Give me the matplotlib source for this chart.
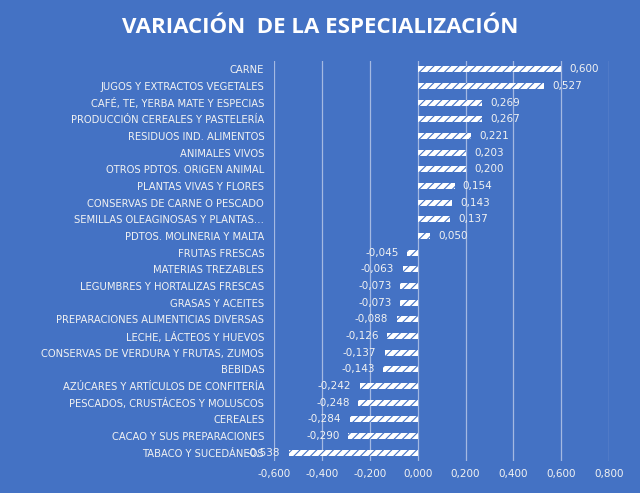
import numpy as np
import matplotlib.pyplot as plt
from matplotlib.ticker import FuncFormatter

categorias = [
    'CARNE',
    'JUGOS Y EXTRACTOS VEGETALES',
    'CAFÉ, TE, YERBA MATE Y ESPECIAS',
    'PRODUCCIÓN CEREALES Y PASTELERÍA',
    'RESIDUOS IND. ALIMENTOS',
    'ANIMALES VIVOS',
    'OTROS PDTOS. ORIGEN ANIMAL',
    'PLANTAS VIVAS Y FLORES',
    'CONSERVAS DE CARNE O PESCADO',
    'SEMILLAS OLEAGINOSAS Y PLANTAS…',
    'PDTOS. MOLINERIA Y MALTA',
    'FRUTAS FRESCAS',
    'MATERIAS TREZABLES',
    'LEGUMBRES Y HORTALIZAS FRESCAS',
    'GRASAS Y ACEITES',
    'PREPARACIONES ALIMENTICIAS DIVERSAS',
    'LECHE, LÁCTEOS Y HUEVOS',
    'CONSERVAS DE VERDURA Y FRUTAS, ZUMOS',
    'BEBIDAS',
    'AZÚCARES Y ARTÍCULOS DE CONFITERÍA',
    'PESCADOS, CRUSTÁCEOS Y MOLUSCOS',
    'CEREALES',
    'CACAO Y SUS PREPARACIONES',
    'TABACO Y SUCEDÁNEOS',
]
valores = [0.600, 0.527, 0.269, 0.267, 0.221, 0.203, 0.200, 0.154, 0.143,
           0.137, 0.050, -0.045, -0.063, -0.073, -0.073, -0.088, -0.126,
           -0.137, -0.143, -0.242, -0.248, -0.284, -0.290, -0.538]
ticks_x = [-0.6, -0.4, -0.2, 0.0, 0.2, 0.4, 0.6, 0.8]

azul = '#4472C4'
texto = '#F2F2F2'

def coma(v, pos=None):
    return f'{v:.3f}'.replace('.', ',')

plt.rcParams['hatch.linewidth'] = 0.8
fig = plt.figure(figsize=(6.4, 4.93), dpi=100, facecolor=azul)
ax = fig.add_axes([0.428, 0.065, 0.524, 0.811])
ax.set_facecolor(azul)

y = np.arange(len(categorias))
ax.barh(y, valores, height=0.36, color='white', edgecolor=azul,
        hatch='////', linewidth=0)

for yi, v in zip(y, valores):
    if v >= 0:
        ax.annotate(coma(v), (v, yi), xytext=(6, 0), textcoords='offset points',
                    ha='left', va='center', fontsize=7.5, color=texto)
    else:
        ax.annotate(coma(v), (v, yi), xytext=(-6, 0), textcoords='offset points',
                    ha='right', va='center', fontsize=7.5, color=texto)

ax.set_xlim(-0.6, 0.8)
ax.set_ylim(len(categorias) - 0.5, -0.5)
ax.set_xticks(ticks_x)
ax.xaxis.set_major_formatter(FuncFormatter(coma))
ax.set_yticks(y)
ax.set_yticklabels(categorias)
ax.tick_params(axis='y', length=0, pad=7, labelsize=7.2, labelcolor=texto)
ax.tick_params(axis='x', length=0, pad=6, labelsize=7.5, labelcolor=texto)
ax.grid(axis='x', color='#A4B9E2', linewidth=0.9)
ax.set_axisbelow(True)
for s in ax.spines.values():
    s.set_visible(False)

fig.text(0.50, 0.945, 'VARIACIÓN  DE LA ESPECIALIZACIÓN', ha='center', va='center',
         fontsize=16, fontweight='bold', color='white', family='Open Sans')

fig.savefig('out.png', dpi=100, facecolor=azul)
